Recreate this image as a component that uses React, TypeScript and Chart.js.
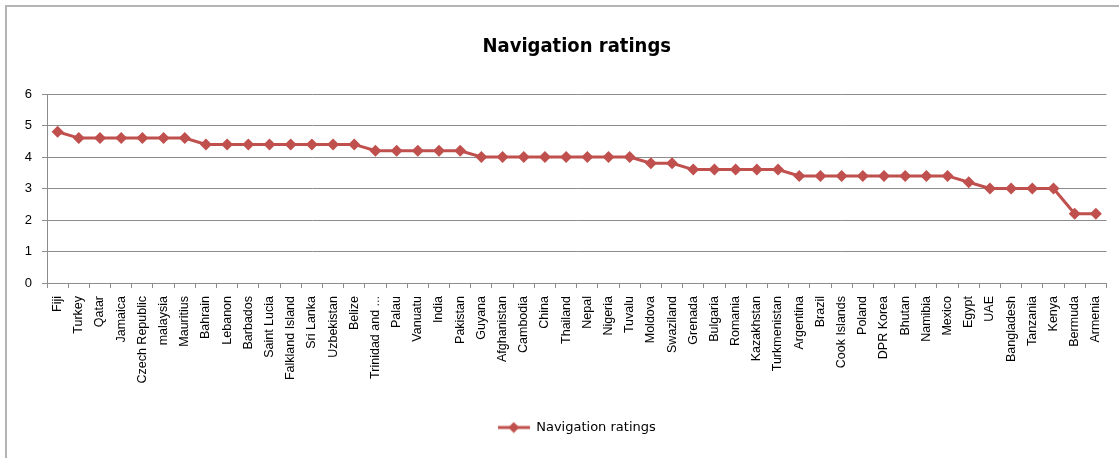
import React, { useEffect, useRef } from "react";
import { Chart, registerables } from "chart.js";

Chart.register(...registerables);

const categories: string[] = [
  "Fiji", "Turkey", "Qatar", "Jamaica", "Czech Republic", "malaysia", "Mauritius",
  "Bahrain", "Lebanon", "Barbados", "Saint Lucia", "Falkland Island", "Sri Lanka",
  "Uzbekistan", "Belize", "Trinidad and ...", "Palau", "Vanuatu", "India", "Pakistan",
  "Guyana", "Afghanistan", "Cambodia", "China", "Thailand", "Nepal", "Nigeria", "Tuvalu",
  "Moldova", "Swaziland", "Grenada", "Bulgaria", "Romania", "Kazakhstan", "Turkmenistan",
  "Argentina", "Brazil", "Cook Islands", "Poland", "DPR Korea", "Bhutan", "Namibia",
  "Mexico", "Egypt", "UAE", "Bangladesh", "Tanzania", "Kenya", "Bermuda", "Armenia",
];

const navigationRatings: number[] = [
  4.8, 4.6, 4.6, 4.6, 4.6, 4.6, 4.6,
  4.4, 4.4, 4.4, 4.4, 4.4, 4.4,
  4.4, 4.4, 4.2, 4.2, 4.2, 4.2, 4.2,
  4.0, 4.0, 4.0, 4.0, 4.0, 4.0, 4.0, 4.0,
  3.8, 3.8, 3.6, 3.6, 3.6, 3.6, 3.6,
  3.4, 3.4, 3.4, 3.4, 3.4, 3.4, 3.4,
  3.4, 3.2, 3.0, 3.0, 3.0, 3.0, 2.2, 2.2,
];

const yTicks: number[] = [0, 1, 2, 3, 4, 5, 6];

const seriesName = "Navigation ratings";
const chartTitle = "Navigation ratings";

const RED = "#C0504D";
const GRID = "#8c8c8c";

function makeLegendIcon(): HTMLCanvasElement {
  const c = document.createElement("canvas");
  c.width = 32;
  c.height = 12;
  const ctx = c.getContext("2d")!;
  ctx.strokeStyle = RED;
  ctx.lineWidth = 3;
  ctx.beginPath();
  ctx.moveTo(0, 6);
  ctx.lineTo(32, 6);
  ctx.stroke();
  ctx.fillStyle = RED;
  ctx.beginPath();
  ctx.moveTo(16, 0.5);
  ctx.lineTo(21.5, 6);
  ctx.lineTo(16, 11.5);
  ctx.lineTo(10.5, 6);
  ctx.closePath();
  ctx.fill();
  return c;
}

export default function App() {
  const canvasRef = useRef<HTMLCanvasElement | null>(null);

  useEffect(() => {
    const canvas = canvasRef.current;
    if (!canvas) return;
    const icon = makeLegendIcon();
    const chart = new Chart(canvas, {
      type: "line",
      data: {
        labels: categories,
        datasets: [
          {
            label: seriesName,
            data: navigationRatings,
            borderColor: RED,
            backgroundColor: RED,
            borderWidth: 3,
            pointStyle: "rectRot",
            pointRadius: 6,
            pointBackgroundColor: RED,
            pointBorderColor: RED,
            pointBorderWidth: 0,
            tension: 0,
            fill: false,
          },
        ],
      },
      options: {
        responsive: false,
        animation: false,
        layout: { padding: { top: 0, left: 0, right: 0, bottom: 14 } },
        plugins: {
          title: {
            display: true,
            text: chartTitle,
            fullSize: false,
            color: "#000",
            font: { family: "'Liberation Sans Narrow', 'DejaVu Sans Condensed', 'Liberation Sans', sans-serif", size: 20, weight: "bold", lineHeight: 1.2 },
            padding: { top: 35, bottom: 35 },
          },
          legend: {
            display: true,
            position: "bottom",
            fullSize: false,
            labels: {
              usePointStyle: true,
              pointStyleWidth: 32,
              padding: 10,
              color: "#000",
              font: { family: "'DejaVu Sans', sans-serif", size: 13 },
              generateLabels: () => [
                {
                  text: seriesName,
                  fillStyle: RED,
                  strokeStyle: RED,
                  lineWidth: 0,
                  pointStyle: icon as any,
                  hidden: false,
                  datasetIndex: 0,
                },
              ],
            },
          },
          tooltip: { enabled: false },
        },
        scales: {
          x: {
            type: "category",
            offset: true,
            grid: {
              display: true,
              offset: true,
              drawOnChartArea: false,
              drawTicks: true,
              tickLength: 5,
              color: GRID,
            },
            border: { display: true, color: GRID, width: 1 },
            ticks: {
              autoSkip: false,
              maxRotation: 90,
              minRotation: 90,
              padding: 8,
              color: "#000",
              font: { family: "'Liberation Sans', sans-serif", size: 12.5 },
            },
            afterFit: (scale: any) => {
              scale.height = 128;
            },
          },
          y: {
            type: "linear",
            min: yTicks[0],
            max: yTicks[yTicks.length - 1],
            afterBuildTicks: (scale: any) => {
              scale.ticks = yTicks.map((v) => ({ value: v }));
            },
            grid: {
              display: true,
              color: GRID,
              lineWidth: 1,
              tickLength: 5,
            },
            border: { display: true, color: GRID, width: 1 },
            ticks: {
              padding: 10,
              color: "#000",
              font: { family: "'Liberation Sans', sans-serif", size: 13 },
            },
            afterFit: (scale: any) => {
              scale.width = 47;
            },
          },
        },
      },
    });
    return () => chart.destroy();
  }, []);

  return (
    <div style={{ position: "fixed", left: 0, top: 0, width: 1119, height: 458, background: "#fff", overflow: "hidden" }}>
      <div
        style={{
          position: "absolute",
          left: 5,
          top: 5,
          right: -10,
          bottom: -10,
          borderTop: "2px solid #b4b4b4",
          borderLeft: "2px solid #b4b4b4",
        }}
      />
      <canvas ref={canvasRef} width={1119} height={458} style={{ position: "absolute", left: 0, top: 0 }} />
    </div>
  );
}
